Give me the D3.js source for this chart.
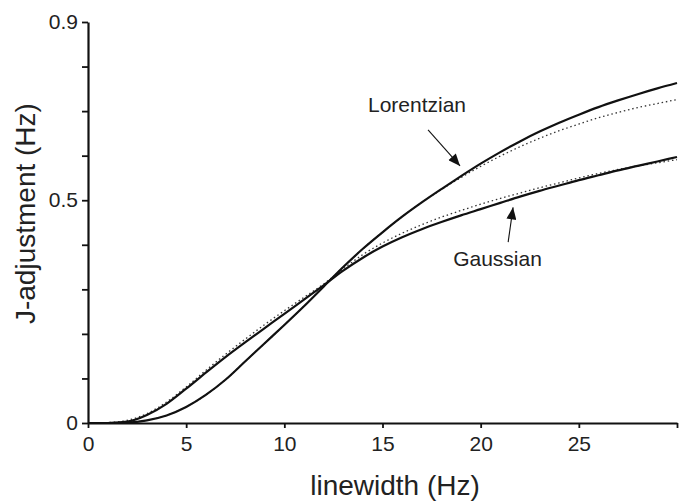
<!DOCTYPE html>
<html>
<head>
<meta charset="utf-8">
<script src="https://cdn.jsdelivr.net/npm/d3@7"></script>
<style>
  html, body { margin: 0; padding: 0; background: #fff; }
  svg { display: block; font-family: "Liberation Sans", Arial, Helvetica, sans-serif; }
</style>
</head>
<body>
<svg id="chart" width="680" height="501"></svg>
<script>
// ---- data ----
const linewidth = [0,1,2,3,4,5,6,7,8,9,10,11,12,13,14,15,16,17,18,19,20,21,22,23,24,25,26,27,28,29,30];
const lorentzian    = [0,0,0.001,0.006,0.017,0.036,0.063,0.097,0.138,0.179,0.220,0.262,0.306,0.350,0.391,0.428,0.463,0.495,0.525,0.554,0.582,0.608,0.632,0.654,0.674,0.692,0.709,0.724,0.738,0.751,0.763];
const gaussian      = [0,0,0.003,0.018,0.043,0.077,0.113,0.148,0.181,0.213,0.245,0.277,0.309,0.342,0.371,0.396,0.417,0.435,0.451,0.466,0.480,0.494,0.508,0.521,0.533,0.545,0.556,0.567,0.577,0.587,0.597];
const lorentzianFit = [0,0,0.001,0.006,0.017,0.036,0.063,0.097,0.138,0.179,0.220,0.262,0.306,0.350,0.391,0.428,0.463,0.495,0.524,0.551,0.576,0.599,0.620,0.639,0.656,0.671,0.685,0.697,0.708,0.717,0.726];
const gaussianFit   = [0,0.001,0.006,0.021,0.047,0.081,0.118,0.154,0.188,0.221,0.252,0.282,0.312,0.346,0.378,0.404,0.426,0.445,0.462,0.477,0.491,0.504,0.516,0.528,0.539,0.550,0.560,0.569,0.577,0.584,0.591];

const xTicks = [0,5,10,15,20,25,30];
const xTickLabels = ["0","5","10","15","20","25",""];
const yTicks = [0,0.1,0.2,0.3,0.4,0.5,0.6,0.7,0.8,0.9];
const yTickLabels = ["0","","","","","0.5","","","","0.9"];

const xTitle = "linewidth (Hz)";
const yTitle = "J-adjustment (Hz)";

// annotations (in data units)
const annoLabels = ["Lorentzian", "Gaussian"];
const annoText = [[14.26, 0.698], [18.6, 0.353]];
const annoArrowFrom = [[17.32, 0.658], [21.4, 0.406]];
const annoArrowTo   = [[18.95, 0.577], [21.65, 0.484]];

// ---- chart ----
const svg = d3.select("#chart");
const x = d3.scaleLinear().domain([0, 30]).range([88, 677]);
const y = d3.scaleLinear().domain([0, 0.9]).range([423, 22]);

svg.append("defs").append("marker")
  .attr("id", "arrow")
  .attr("markerUnits", "userSpaceOnUse")
  .attr("viewBox", "0 0 12 10")
  .attr("refX", 12).attr("refY", 5)
  .attr("markerWidth", 13).attr("markerHeight", 10)
  .attr("orient", "auto")
  .append("path").attr("d", "M0,0 L12,5 L0,10 Z").attr("fill", "#111");

const line = d3.line()
  .x((d, i) => x(linewidth[i]))
  .y(d => y(d))
  .curve(d3.curveMonotoneX);

// dotted fits
[gaussianFit, lorentzianFit].forEach(s => {
  svg.append("path").datum(s)
    .attr("d", line)
    .attr("fill", "none")
    .attr("stroke", "#333")
    .attr("stroke-width", 1.3)
    .attr("stroke-dasharray", "1.5,2.8");
});
// solid curves
[gaussian, lorentzian].forEach(s => {
  svg.append("path").datum(s)
    .attr("d", line)
    .attr("fill", "none")
    .attr("stroke", "#111")
    .attr("stroke-width", 2.2);
});

// axes
const xAxis = d3.axisBottom(x).tickValues(xTicks)
  .tickFormat((d, i) => xTickLabels[i]).tickSize(5).tickSizeOuter(0).tickPadding(8);
const yAxis = d3.axisLeft(y).tickValues(yTicks)
  .tickFormat((d, i) => yTickLabels[i]).tickSize(6).tickSizeOuter(0).tickPadding(4);

const gx = svg.append("g").attr("transform", `translate(0,${y(0)})`).call(xAxis);
const gy = svg.append("g").attr("transform", `translate(${x(0)},0)`).call(yAxis);
[gx, gy].forEach(g => {
  g.select(".domain").attr("stroke", "#111").attr("stroke-width", 2.2);
  g.selectAll(".tick line").attr("stroke", "#111").attr("stroke-width", 1.8);
  g.selectAll(".tick text").attr("fill", "#222").style("font-size", "21px")
    .style("font-family", '"Liberation Sans", Arial, sans-serif');
});

// axis titles
svg.append("text")
  .attr("x", 395).attr("y", 495)
  .attr("text-anchor", "middle")
  .style("font-size", "28px").attr("fill", "#222")
  .text(xTitle);

svg.append("text")
  .attr("transform", `translate(35,${y(0.47)}) rotate(-90)`)
  .attr("text-anchor", "middle")
  .style("font-size", "28px").attr("fill", "#222")
  .text(yTitle);

// annotations
annoLabels.forEach((t, i) => {
  svg.append("text")
    .attr("x", x(annoText[i][0])).attr("y", y(annoText[i][1]))
    .style("font-size", "21px").attr("fill", "#222")
    .text(t);
  svg.append("line")
    .attr("x1", x(annoArrowFrom[i][0])).attr("y1", y(annoArrowFrom[i][1]))
    .attr("x2", x(annoArrowTo[i][0])).attr("y2", y(annoArrowTo[i][1]))
    .attr("stroke", "#111").attr("stroke-width", 1.1)
    .attr("marker-end", "url(#arrow)");
});
</script>
</body>
</html>
